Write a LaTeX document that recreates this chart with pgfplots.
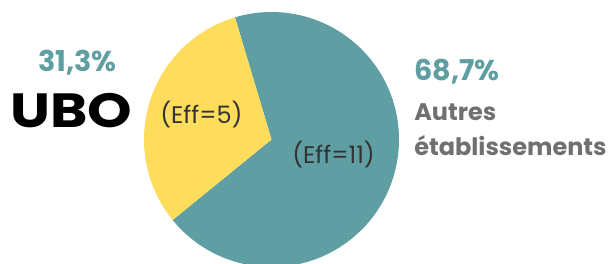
\documentclass[border=0pt]{standalone}
\usepackage{pgfplots}
\pgfplotsset{compat=1.18}
\usepackage{pgfplotstable}
\usepackage{fontspec}
\setmainfont{Poppins}
\definecolor{tealc}{HTML}{5F9EA3}
\definecolor{yel}{HTML}{FFDD5C}
\definecolor{grayt}{HTML}{707070}
\definecolor{darkt}{HTML}{333333}
\pgfplotstableread{
label eff
UBO 5
Autres 11
}\piedata
\begin{document}
\begin{tikzpicture}
\pgfplotstablegetelem{0}{eff}\of\piedata \let\effA\pgfplotsretval
\pgfplotstablegetelem{1}{eff}\of\piedata \let\effB\pgfplotsretval
\pgfmathsetmacro\spanA{360*\effA/(\effA+\effB)}
\pgfmathsetmacro\startA{162.9-\spanA/2}
\pgfmathsetmacro\endA{\startA+\spanA}
\pgfmathsetmacro\endB{\startA+360}
\begin{axis}[scale only axis, width=458.25pt, height=198pt,
  xmin=0, xmax=611, ymin=0, ymax=264, hide axis, clip=false]
\fill[tealc] (axis cs:271.5,124.5) -- ++(\endA:95.625pt) arc[start angle=\endA, end angle=\endB, radius=95.625pt] -- cycle;
\fill[yel] (axis cs:271.5,124.5) -- ++(\startA:95.625pt) arc[start angle=\startA, end angle=\endA, radius=95.625pt] -- cycle;
\node[anchor=base west, inner sep=0, text=darkt, font=\fontsize{18}{20}\selectfont] at (axis cs:160,140) {(Eff=5)};
\node[anchor=base west, inner sep=0, text=darkt, font=\fontsize{18}{20}\selectfont] at (axis cs:292,100) {(Eff=11)};
\node[anchor=base, inner sep=0, text=tealc, font=\fontsize{21.5}{24}\selectfont\bfseries] at (axis cs:77.5,192) {31,3\%};
\node[anchor=base, inner sep=0, text=black, xscale=1.18, font=\fontsize{36}{40}\selectfont\bfseries] at (axis cs:71.5,136) {UBO};
\node[anchor=base west, inner sep=0, text=tealc, font=\fontsize{21.5}{24}\selectfont\bfseries] at (axis cs:414,183) {68,7\%};
\node[anchor=base west, inner sep=0, text=grayt, font=\fontsize{18}{22}\selectfont\bfseries] at (axis cs:414,143) {Autres};
\node[anchor=base west, inner sep=0, text=grayt, font=\fontsize{18}{22}\selectfont\bfseries] at (axis cs:414,108) {établissements};
\end{axis}
\pgfresetboundingbox
\path[use as bounding box] (current axis.south west) rectangle (current axis.north east);
\end{tikzpicture}
\end{document}
